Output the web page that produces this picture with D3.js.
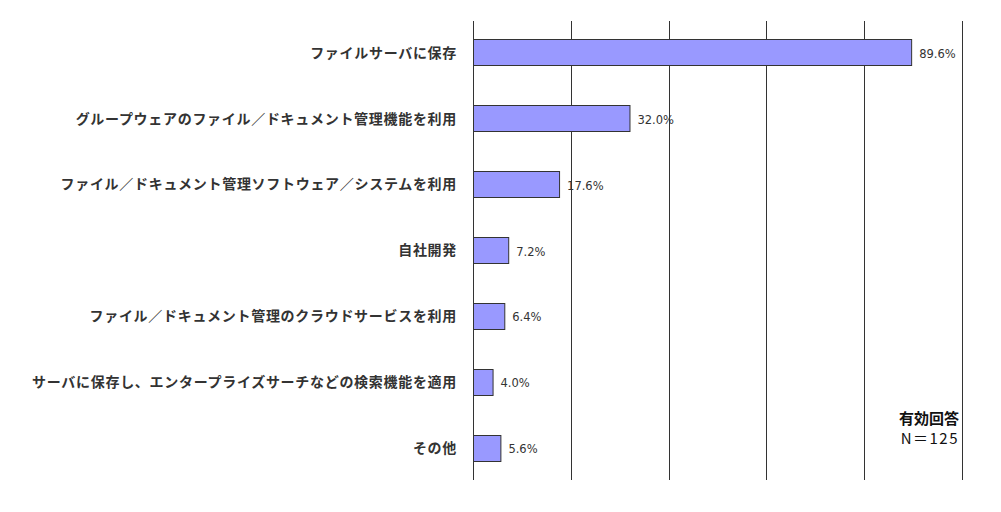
<!DOCTYPE html>
<html>
<head>
<meta charset="utf-8">
<script src="https://cdn.jsdelivr.net/npm/d3@7"></script>
<style>
  body { margin: 0; background: #fff; }
</style>
</head>
<body>
<div id="chart"></div>
<script>
const categories = [
    "ファイルサーバに保存",
    "グループウェアのファイル／ドキュメント管理機能を利用",
    "ファイル／ドキュメント管理ソフトウェア／システムを利用",
    "自社開発",
    "ファイル／ドキュメント管理のクラウドサービスを利用",
    "サーバに保存し、エンタープライズサーチなどの検索機能を適用",
    "その他"
];
const values = [89.6, 32.0, 17.6, 7.2, 6.4, 4.0, 5.6];
const gridTicks = [0, 20, 40, 60, 80, 100];
const noteTitle = "有効回答";
const noteN = "N＝125";

let width = 1001, height = 512;
let margin = { top: 21, right: 39, bottom: 32, left: 473 };

let svg = d3.select("#chart")
    .append("svg")
    .attr("width", width)
    .attr("height", height);

let x = d3.scaleLinear().domain([0, 100]).range([margin.left, width - margin.right]);
let y = d3.scaleBand().domain(categories).range([margin.top, height - margin.bottom]).paddingInner(0.6).paddingOuter(0.28);

// vertical grid lines
svg.append("g")
    .selectAll("line")
    .data(gridTicks)
    .enter()
    .append("line")
    .attr("x1", d => Math.round(x(d)) + 0.5)
    .attr("x2", d => Math.round(x(d)) + 0.5)
    .attr("y1", margin.top)
    .attr("y2", height - margin.bottom)
    .attr("stroke", "#333")
    .attr("stroke-width", 1);

// bars
svg.append("g")
    .selectAll("rect")
    .data(values)
    .enter()
    .append("rect")
    .attr("x", x(0) + 0.5)
    .attr("y", (d, i) => Math.round(y(categories[i])) + 0.5)
    .attr("width", d => x(d) - x(0))
    .attr("height", Math.round(y.bandwidth()))
    .attr("fill", "#9999ff")
    .attr("stroke", "#333")
    .attr("stroke-width", 1);

// value labels
svg.append("g")
    .selectAll("text")
    .data(values)
    .enter()
    .append("text")
    .attr("x", d => x(d) + 8)
    .attr("y", (d, i) => y(categories[i]) + y.bandwidth() / 2 + 1)
    .attr("dy", "0.35em")
    .attr("font-family", "DejaVu Sans, sans-serif")
    .attr("font-size", 11.5)
    .attr("fill", "#333")
    .text(d => d.toFixed(1) + "%");

// category labels
svg.append("g")
    .selectAll("text")
    .data(categories)
    .enter()
    .append("text")
    .attr("x", 457)
    .attr("y", d => y(d) + y.bandwidth() / 2)
    .attr("dy", "0.35em")
    .attr("text-anchor", "end")
    .attr("font-family", "Noto Sans CJK JP, sans-serif")
    .attr("font-size", 14)
    .attr("font-weight", "bold")
    .attr("letter-spacing", 0.7)
    .attr("fill", "#333")
    .text(d => d);

// note
svg.append("text")
    .attr("x", x(100) - 3)
    .attr("y", 424)
    .attr("text-anchor", "end")
    .attr("font-family", "Noto Sans CJK JP, sans-serif")
    .attr("font-size", 15)
    .attr("font-weight", "bold")
    .attr("fill", "#111")
    .text(noteTitle);

svg.append("text")
    .attr("x", x(100) - 3)
    .attr("y", 444)
    .attr("text-anchor", "end")
    .attr("font-family", "Noto Sans CJK JP, sans-serif")
    .attr("font-size", 15)
    .attr("letter-spacing", 1.5)
    .attr("fill", "#111")
    .text(noteN);
</script>
</body>
</html>
